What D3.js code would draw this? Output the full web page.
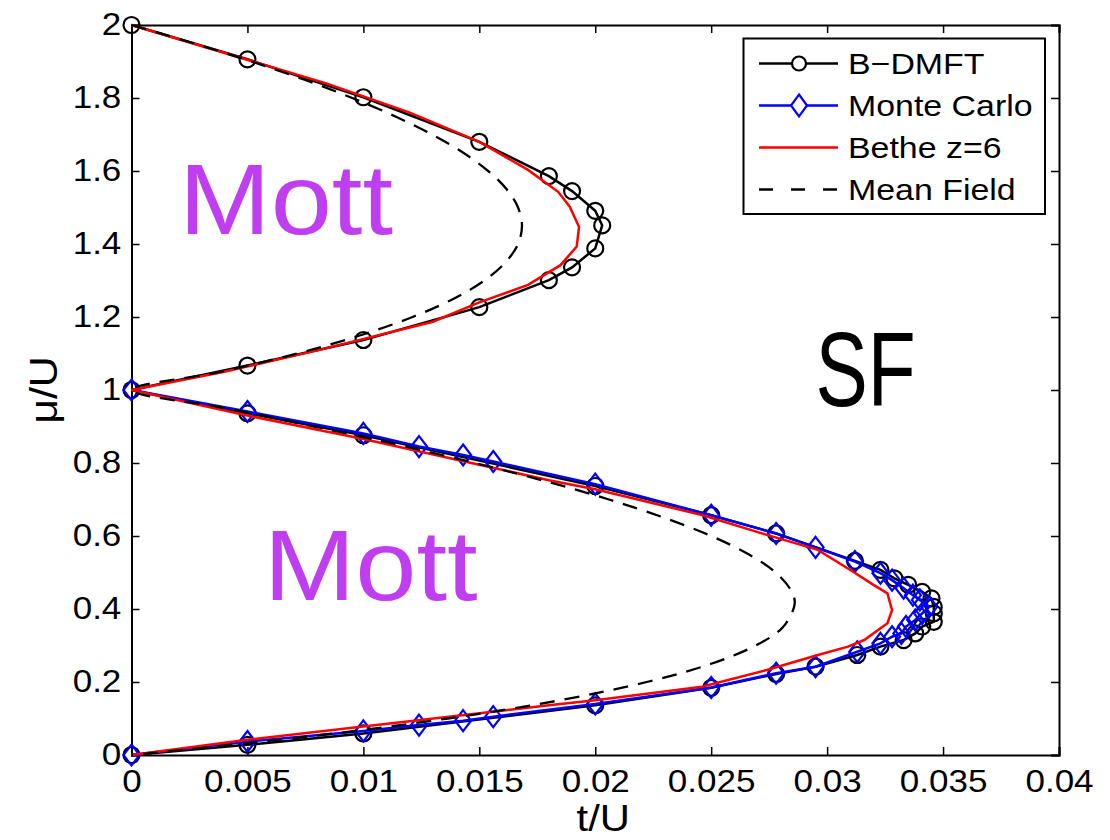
<!DOCTYPE html>
<html><head><meta charset="utf-8">
<script src="https://cdn.jsdelivr.net/npm/d3@7"></script>
<style>
html,body{margin:0;padding:0;background:#fff;}
svg text{font-family:"Liberation Sans",Arial,Helvetica,sans-serif;}
</style></head>
<body>
<svg id="chart" width="1110" height="840"></svg>
<script>
// ---------------- data ----------------
const xTicks = [0, 0.005, 0.01, 0.015, 0.02, 0.025, 0.03, 0.035, 0.04];
const xTickLabels = ["0","0.005","0.01","0.015","0.02","0.025","0.03","0.035","0.04"];
const yTicks = [0, 0.2, 0.4, 0.6, 0.8, 1, 1.2, 1.4, 1.6, 1.8, 2];
const yTickLabels = ["0","0.2","0.4","0.6","0.8","1","1.2","1.4","1.6","1.8","2"];

// B-DMFT (black circles)
const bdmftT  = [0, 0.005, 0.010, 0.015, 0.018, 0.019, 0.020, 0.0203, 0.020, 0.019, 0.018, 0.015, 0.010, 0.005,
                 0, 0.005, 0.010, 0.020, 0.025, 0.0278, 0.0312, 0.0323, 0.0329, 0.0335, 0.0341, 0.0345, 0.0346, 0.0346, 0.0346,
                 0.0341, 0.0338, 0.0333, 0.0323, 0.0313, 0.0295, 0.0278, 0.025, 0.020, 0.010, 0.005, 0];
const bdmftMu = [2.0, 1.906, 1.802, 1.680, 1.586, 1.545, 1.491, 1.451, 1.388, 1.336, 1.301, 1.227, 1.137, 1.067,
                 1.0, 0.936, 0.876, 0.737, 0.657, 0.607, 0.532, 0.507, 0.484, 0.466, 0.447, 0.429, 0.406, 0.388, 0.365,
                 0.352, 0.333, 0.315, 0.297, 0.274, 0.242, 0.222, 0.184, 0.136, 0.059, 0.028, 0];

// Monte Carlo (blue diamonds)
const mcT  = [0, 0.005, 0.010, 0.0124, 0.0143, 0.0156, 0.020, 0.025, 0.0278, 0.0295, 0.0312, 0.0323, 0.0328, 0.0333,
              0.0337, 0.0340, 0.0344, 0.0341, 0.0338, 0.0334, 0.0332, 0.0328, 0.0323, 0.0313, 0.0295, 0.0278, 0.025,
              0.020, 0.0156, 0.0143, 0.0124, 0.010, 0.005, 0];
const mcMu = [1.0, 0.941, 0.881, 0.845, 0.822, 0.804, 0.742, 0.657, 0.607, 0.569, 0.530, 0.498, 0.479, 0.457,
              0.438, 0.425, 0.406, 0.388, 0.370, 0.352, 0.333, 0.324, 0.306, 0.283, 0.242, 0.224, 0.185,
              0.140, 0.105, 0.094, 0.082, 0.066, 0.037, 0];

// Bethe lattice z=6 (red line)
const betheT  = [0, 0.0042, 0.0084, 0.0120, 0.0150, 0.0171, 0.0184, 0.0189, 0.0193, 0.0192, 0.0185, 0.0171, 0.0150,
                 0.0130, 0.0081, 0.0040, 0,
                 0.005, 0.010, 0.015, 0.018, 0.020, 0.0246, 0.0274, 0.0296, 0.0310, 0.0320, 0.0326, 0.0328, 0.0326,
                 0.0316, 0.0309, 0.0296, 0.0274, 0.0246, 0.020, 0.0181, 0.010, 0.005, 0];
const betheMu = [2.0, 1.920, 1.840, 1.760, 1.680, 1.603, 1.543, 1.502, 1.447, 1.393, 1.342, 1.288, 1.240,
                 1.187, 1.110, 1.050, 1.0,
                 0.930, 0.866, 0.795, 0.753, 0.728, 0.6575, 0.603, 0.562, 0.507, 0.466, 0.443, 0.397, 0.361,
                 0.315, 0.297, 0.274, 0.233, 0.187, 0.150, 0.137, 0.078, 0.042, 0];

// Mean field (black dashed)
const mfT  = [0, 0.00268, 0.00517, 0.00746, 0.00952, 0.01136, 0.01296, 0.01431, 0.01538, 0.01618, 0.01667, 0.01684,
              0.01667, 0.01613, 0.01522, 0.01389, 0.01212, 0.00988, 0.00714, 0.00386, 0,
              0.00406, 0.00789, 0.01149, 0.01481, 0.01786, 0.02059, 0.02298, 0.02500, 0.02661, 0.02778, 0.02845,
              0.02860, 0.02809, 0.02692, 0.02500, 0.02222, 0.01848, 0.01364, 0.00754, 0];
const mfMu = [2.0, 1.95, 1.90, 1.85, 1.80, 1.75, 1.70, 1.65, 1.60, 1.55, 1.50, 1.45,
              1.40, 1.35, 1.30, 1.25, 1.20, 1.15, 1.10, 1.05, 1.0,
              0.95, 0.90, 0.85, 0.80, 0.75, 0.70, 0.65, 0.60, 0.55, 0.50, 0.45,
              0.414, 0.35, 0.30, 0.25, 0.20, 0.15, 0.10, 0.05, 0];

const seriesNames = ["B\u2212DMFT", "Monte Carlo", "Bethe z=6", "Mean Field"];
const regionLabels = ["Mott", "Mott", "SF"];
const regionT  = [0.00205, 0.00570, 0.0295];
const regionMu = [1.428, 0.425, 0.955];

// ---------------- drawing ----------------
const svg = d3.select("#chart");
const L = 131.5, R = 1059, T = 25, B = 755;
const x = d3.scaleLinear().domain([0, 0.04]).range([L, R]);
const y = d3.scaleLinear().domain([0, 2]).range([B, T]);

const font = '"Liberation Sans",Arial,Helvetica,sans-serif';
const SX = 1.13;
const tickFS = 31;

const axB = d3.axisBottom(x).tickValues(xTicks).tickSize(-8).tickPadding(15)
  .tickFormat((d,i) => xTickLabels[i]);
const axT = d3.axisTop(x).tickValues(xTicks).tickSize(-8).tickFormat("");
const axL = d3.axisLeft(y).tickValues(yTicks).tickSize(-8).tickPadding(9)
  .tickFormat((d,i) => yTickLabels[i]);
const axR = d3.axisRight(y).tickValues(yTicks).tickSize(-8).tickFormat("");

function styleAxis(g){
  g.select(".domain").attr("stroke","#000").attr("stroke-width",2);
  g.selectAll(".tick line").attr("stroke","#000").attr("stroke-width",1.5);
  g.selectAll(".tick text").attr("fill","#000").attr("font-size",tickFS).attr("font-family",font)
    .attr("transform",`scale(${SX},1)`);
}
svg.append("g").attr("transform",`translate(0,${B})`).call(axB).call(styleAxis);
svg.append("g").attr("transform",`translate(0,${T})`).call(axT).call(styleAxis);
svg.append("g").attr("transform",`translate(${L},0)`).call(axL).call(styleAxis);
svg.append("g").attr("transform",`translate(${R},0)`).call(axR).call(styleAxis);

// axis titles
svg.append("text").attr("transform",`translate(${(L+R)/2 + 8},831) scale(${SX},1)`).attr("text-anchor","middle")
  .attr("font-size",37).attr("fill","#000").text("t/U");
svg.append("text").attr("transform",`translate(57,${(T+B)/2}) rotate(-90) scale(${SX},1)`).attr("text-anchor","middle")
  .attr("font-size",38).attr("fill","#000").text("\u03bc/U");

// region labels
const labelFont = 'Lato,"Open Sans","Noto Sans",sans-serif';
const regFS = [100, 100, 106];
const regSX = [1.1, 1.1, 0.74];
const regColor = ["#bf3ff0", "#bf3ff0", "#000"];
svg.append("g").selectAll("text").data(regionLabels).join("text")
  .attr("transform",(d,i)=>`translate(${x(regionT[i])},${y(regionMu[i])}) scale(${regSX[i]},1)`)
  .attr("font-family",labelFont).attr("font-size",(d,i)=>regFS[i])
  .attr("fill",(d,i)=>regColor[i])
  .text(d=>d);

const line = d3.line().x(d=>x(d[0])).y(d=>y(d[1]));
const zip = (a,b) => a.map((v,i)=>[v,b[i]]);
const bd = zip(bdmftT, bdmftMu), mc = zip(mcT, mcMu), be = zip(betheT, betheMu), mf = zip(mfT, mfMu);

const plot = svg.append("g");
plot.append("path").datum(bd).attr("d",line).attr("fill","none").attr("stroke","#000").attr("stroke-width",2.5);
plot.selectAll("circle.bd").data(bd).join("circle").attr("class","bd")
  .attr("cx",d=>x(d[0])).attr("cy",d=>y(d[1])).attr("r",8)
  .attr("fill","none").attr("stroke","#000").attr("stroke-width",2.2);
const diamond = (cx,cy,w,h) => `M${cx},${cy-h}L${cx+w},${cy}L${cx},${cy+h}L${cx-w},${cy}Z`;
plot.append("path").datum(mc).attr("d",line).attr("fill","none").attr("stroke","#0000ff").attr("stroke-width",2.5);
plot.selectAll("path.mc").data(mc).join("path").attr("class","mc")
  .attr("d",d=>diamond(x(d[0]),y(d[1]),8,10.5))
  .attr("fill","none").attr("stroke","#0000ff").attr("stroke-width",2.2);
plot.append("path").datum(be).attr("d",line).attr("fill","none").attr("stroke","#ff0000").attr("stroke-width",2.5);
plot.append("path").datum(mf).attr("d",d3.line().curve(d3.curveCatmullRom).x(d=>x(d[0])).y(d=>y(d[1])))
  .attr("fill","none").attr("stroke","#000").attr("stroke-width",2.3).attr("stroke-dasharray","15,10");

// legend
const lg = svg.append("g");
lg.append("rect").attr("x",743.5).attr("y",38.5).attr("width",301.5).attr("height",175.5)
  .attr("fill","#fff").attr("stroke","#000").attr("stroke-width",2);
const rowY = [63.5, 105.5, 147.5, 189.5];
const rowColor = ["#000","#0000ff","#ff0000","#000"];
seriesNames.forEach((nm,i)=>{
  const yy = rowY[i];
  lg.append("line").attr("x1",759).attr("x2",838).attr("y1",yy).attr("y2",yy)
    .attr("stroke",rowColor[i]).attr("stroke-width",2.5)
    .attr("stroke-dasharray", i===3 ? "14,18" : null);
  if(i===0) lg.append("circle").attr("cx",799).attr("cy",yy).attr("r",7).attr("fill","#fff").attr("stroke","#000").attr("stroke-width",2.2);
  if(i===1) lg.append("path").attr("d",diamond(799,yy,8,11)).attr("fill","#fff").attr("stroke","#0000ff").attr("stroke-width",2.2);
  lg.append("text").attr("transform",`translate(848,${yy}) scale(${SX},1)`).attr("dy","0.36em")
    .attr("font-size",30).attr("fill","#000").text(nm);
});
</script>
</body></html>
